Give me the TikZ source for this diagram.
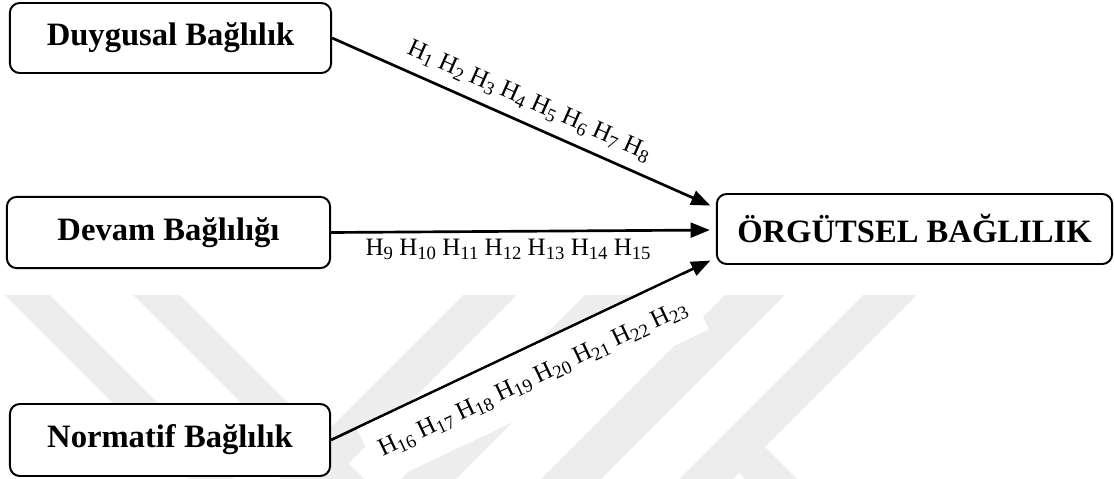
\documentclass[tikz,border=0pt]{standalone}
\usepackage{fontspec}
\setmainfont{Liberation Serif}
\usepackage{tikz}
\usetikzlibrary{arrows.meta,calc}

% hypothesis label with its number set low
\newcommand{\hyp}[1]{H\raisebox{-0.17em}{\fontsize{13.3}{14}\selectfont #1}}

\begin{document}
\begin{tikzpicture}[x=0.025cm,y=-0.025cm,
	kutu/.style={draw,fill=white,line width=1.4pt,rounded corners=7pt,inner sep=0pt,
		font=\fontsize{23.2}{27}\selectfont\bfseries},
	etiket/.style={font=\fontsize{17.8}{21}\selectfont},
	iz/.style={fill=black!7,draw=none}]
		\useasboundingbox (0,0) rectangle (1114,479);
		%
		% faint stripes in the background
		\fill[iz] (5,295) -- (50,295) -- (234,479) -- (189,479) -- cycle;
		\fill[iz] (133,295) -- (180,295) -- (364,479) -- (317,479) -- cycle;
		\fill[iz] (463,295) -- (517,295) -- (333,479) -- (279,479) -- cycle;
		\fill[iz] (585,295) -- (640,295) -- (456,479) -- (401,479) -- cycle;
		\fill[iz] (725,295) -- (785,295) -- (601,479) -- (541,479) -- cycle;
		\fill[iz] (863,295) -- (917,295) -- (733,479) -- (679,479) -- cycle;
		\fill[iz] (765,447) -- (797,479) -- (745,479) -- (739,473) -- cycle;
		%
		\node[kutu,minimum width=8.03cm,minimum height=1.75cm] (D) at (170.5,38) {Duygusal Bağlılık};
		\node[kutu,minimum width=8.08cm,minimum height=1.78cm] (V) at (168.5,232.5) {Devam Bağlılığı};
		\node[kutu,minimum width=8.0cm,minimum height=1.8cm] (N) at (170,440) {Normatif Bağlılık};
		\node[kutu,minimum width=9.88cm,minimum height=1.75cm] (O) at (914.5,229) {ÖRGÜTSEL BAĞLILIK};
		%
		\path[-{Triangle[length=0.48cm,width=0.37cm]},line width=1.9pt,shorten >=0.15cm]
		% arrows into the main box
		(D.east) edge node[etiket,sloped,above,pos=0.49,inner sep=7pt]
			{\hyp{1} \hyp{2} \hyp{3} \hyp{4} \hyp{5} \hyp{6} \hyp{7} \hyp{8}} ($(O.west)+(0,-21)$)
		(V.east) edge node[etiket,below,pos=0.46,inner sep=4.5pt]
			{\hyp{9} \hyp{10} \hyp{11} \hyp{12} \hyp{13} \hyp{14} \hyp{15}} ($(O.west)+(0,1)$)
		(N.east) edge node[etiket,sloped,below,pos=0.49,fill=white,inner xsep=8pt,inner ysep=14pt]
			{\hyp{16} \hyp{17} \hyp{18} \hyp{19} \hyp{20} \hyp{21} \hyp{22} \hyp{23}} ($(O.west)+(0,29)$);
\end{tikzpicture}
\end{document}
